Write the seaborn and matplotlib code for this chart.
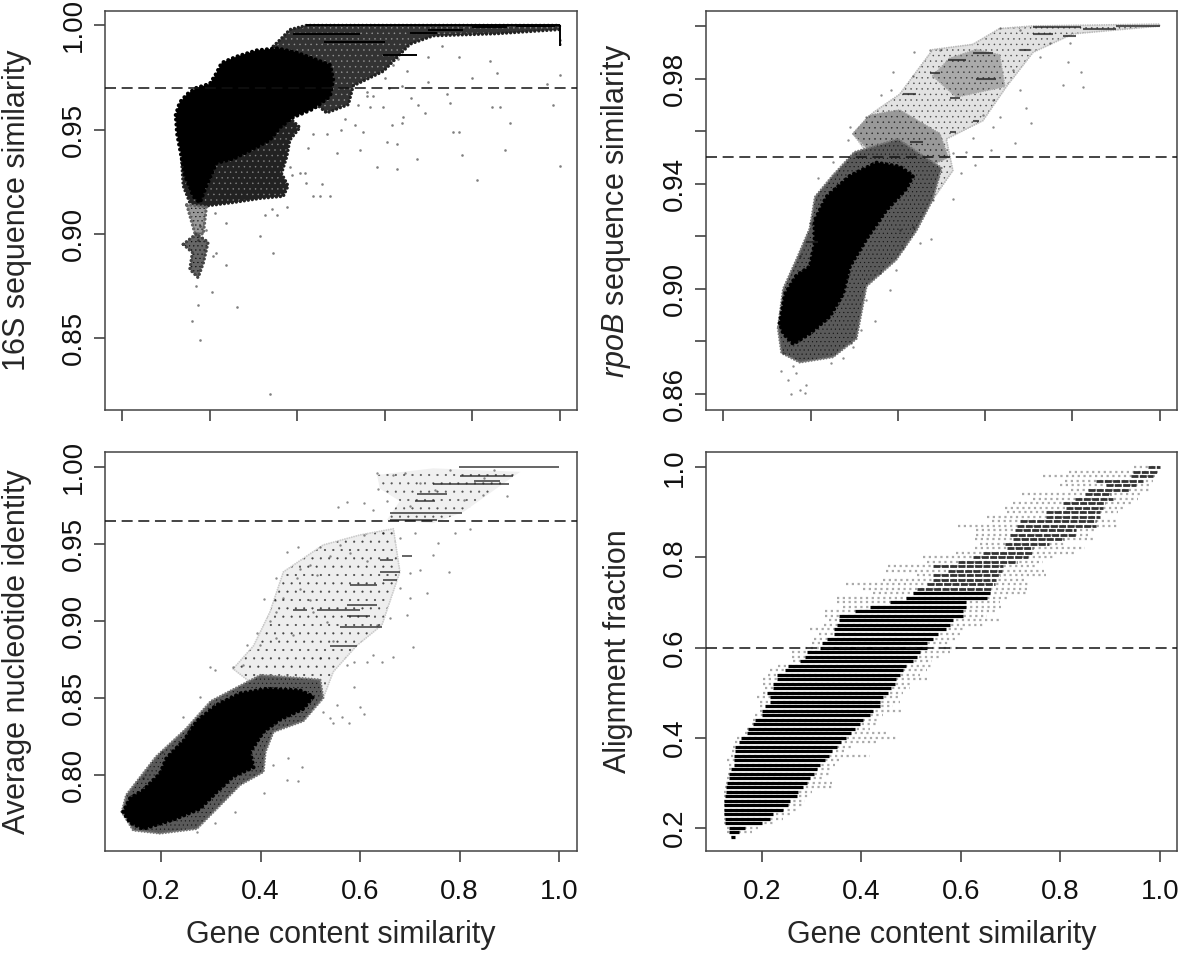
import matplotlib
matplotlib.use("Agg")
import matplotlib.pyplot as plt
import seaborn as sns

sns.set_theme(style="ticks")
plt.rcParams["font.family"] = ["Liberation Sans", "DejaVu Sans"]
plt.rcParams["mathtext.fontset"] = "custom"
plt.rcParams["mathtext.it"] = "Liberation Sans:italic"
plt.rcParams["mathtext.rm"] = "Liberation Sans"
plt.rcParams["hatch.linewidth"] = 0.3

# ---- 16S panel (outlines of the saturated cloud, streaks, loose points)
s16_core_x = [.122, .131, .148, .169, .200, .215, .227, .261, .307, .353, .398, .437, .475, .482, .475, .437, .391, .360, .337, .292, .253, .215, .192, .177, .162, .143, .135, .125]
s16_core_y = [.957, .963, .967, .970, .972, .977, .982, .985, .988, .989, .987, .984, .981, .974, .966, .960, .956, .951, .945, .940, .936, .934, .923, .915, .918, .928, .937, .948]
s16_low_x = [.135, .139, .154, .177, .253, .315, .368, .379, .364, .376, .383, .406, .360, .200]
s16_low_y = [.936, .923, .915, .913, .915, .917, .918, .923, .929, .937, .945, .951, .960, .960]
s16_top_x = [.345, .360, .383, .421, .711, 1.0, 1.0, .856, .711, .658, .597, .528, .517, .467, .400]
s16_top_y = [.990, .993, .998, 1.0, 1.0, 1.0, .998, .996, .995, .991, .978, .971, .962, .958, .970]
s16_neck_x = [.147, .192, .185, .166]
s16_neck_y = [.914, .913, .900, .900]
s16_tail_x = [.139, .169, .196, .185, .173, .154, .160]
s16_tail_y = [.895, .900, .896, .886, .879, .883, .891]
s16_streak_lo = [.421, .39, .658, .597, .46, .70, .80, .90]
s16_streak_hi = [1.0, .543, .719, .673, .60, .78, .88, .99]
s16_streak_y = [1.0, .996, .9965, .9858, .992, .998, .999, .9995]
s16_px = [1.0, 1.0, .337, .177, .261, .158, .173, .169, .204, .238, .215, .208, .314, .345, .353, .326, .452, .456, .475, .418, .532, .616, .639, .643, .757, .769, .841, .856, .845, .864, .986, .971, .799, .70, .742, .692, .677, .627, .582, .673, .776, .811, .876, .887, .75, .559, .574, .566, .597, .551, .605, .627, .544, .49, .467, .437, .425, .406, .383, .387, .421, .437, .376, .341, .238, .211, .177, .192, .173, 1.0, 1.0, .62, .65, .60, .63, .56, .54, .51, .50, .70, .73, .77, .61, .64, .66]
s16_py = [.976, .9325, .823, .849, .865, .858, .866, .875, .872, .885, .891, .8895, .899, .891, .909, .909, .918, .924, .918, .929, .952, .952, .953, .956, .949, .949, .983, .977, .961, .961, .962, .972, .975, .973, .967, .958, .962, .931, .932, .936, .938, .926, .94, .953, .963, .966, .966, .961, .961, .949, .944, .943, .94, .939, .948, .948, .941, .929, .932, .928, .9245, .918, .913, .912, .905, .91, .904, .902, .897, .991, .993, .981, .978, .975, .984, .968, .962, .955, .95, .985, .99, .985, .97, .971, .965]
s16_ticks = [1.00, .95, .90, .85]
s16_labels = ["1.00", "0.95", "0.90", "0.85"]

# ---- rpoB panel
rpo_core_x = [.129, .141, .167, .198, .209, .209, .236, .290, .351, .404, .435, .419, .374, .328, .290, .274, .244, .198, .160, .137]
rpo_core_y = [.887, .898, .905, .9085, .917, .926, .935, .943, .948, .9465, .943, .938, .930, .919, .9085, .898, .8895, .883, .879, .883]
rpo_mid_x = [.125, .133, .175, .251, .305, .328, .396, .442, .48, .50, .40, .30, .25, .21, .198, .167, .137]
rpo_mid_y = [.885, .8756, .872, .874, .881, .901, .911, .922, .934, .946, .957, .952, .943, .935, .923, .911, .90]
rpo_up_x = [.297, .335, .404, .496, .515, .45, .35]
rpo_up_y = [.959, .966, .968, .959, .95, .945, .95]
rpo_clump_x = [.519, .58, .633, .645, .534, .48]
rpo_clump_y = [.9877, .991, .989, .977, .973, .981]
rpo_out_x = [.48, .526, .511, .595, .649, .71, .801, 1.0, 1.0, .71, .633, .572, .48, .404, .343, .297, .36]
rpo_out_y = [.934, .945, .957, .964, .977, .99, .997, 1.0, 1.0007, 1.0, .999, .993, .991, .974, .967, .959, .945]
rpo_streak_lo = [.9, .824, .71, .778, .572, .515, .58, .473, .519, .412, .427, .19, .519, .572, .679, .71]
rpo_streak_hi = [1.0, .9, .755, .809, .618, .557, .626, .496, .542, .442, .458, .217, .534, .587, .702, .82]
rpo_streak_y = [1.0, .999, .997, .996, .9896, .987, .98, .982, .9725, .974, .956, .918, .9595, .964, .991, .9995]
rpo_px = [.82, .778, .824, .79, .694, .706, .668, .614, .557, .576, .545, .526, .477, .45, .412, .396, .381, .347, .316, .297, .274, .247, .19, .186, .156, .175, .133, .148, .167, .137, .16, .438, .473, .496, .435, .389, .362, .385, .29, .286, .328, .251, .217, .198, .175, .679, .633, .794, .748, .725, .679, .664, .618, .595, .633, .618, .572, .526, .48, .435, .404, .358, .328, .293]
rpo_py = [.9826, .9776, .9767, .9864, .9687, .963, .9554, .9529, .9519, .9472, .944, .934, .919, .9174, .9155, .9073, .8997, .8876, .8845, .878, .8737, .8718, .8635, .8604, .8598, .8616, .8686, .8655, .868, .8756, .8705, .99, .991, .991, .981, .9826, .9738, .9757, .9617, .9567, .9655, .9484, .9421, .925, .9123, .9985, .9991, .9934, .9934, .9883, .9757, .9833, .9719, .9662, .9655, .9617, .9573, .9516, .9339, .9237, .9225, .906, .8959, .8794]
rpo_ticks = [1.00, .98, .96, .94, .92, .90, .88, .86]
rpo_labels = ["", "0.98", "", "0.94", "", "0.90", "", "0.86"]

# ---- ANI panel
ani_core_x = [.124, .138, .164, .198, .211, .245, .272, .312, .359, .412, .479, .506, .486, .439, .406, .379, .386, .345, .312, .278, .225, .164, .138]
ani_core_y = [.776, .785, .790, .801, .811, .822, .835, .8455, .853, .856, .855, .851, .843, .836, .828, .815, .805, .799, .789, .778, .771, .765, .769]
ani_mid_x = [.121, .144, .198, .272, .312, .359, .406, .41, .426, .486, .526, .52, .40, .30, .25, .19, .13]
ani_mid_y = [.776, .764, .762, .765, .778, .7935, .802, .815, .828, .835, .85, .862, .865, .848, .83, .812, .787]
ani_out_x = [.345, .386, .419, .446, .526, .60, .667, .68, .644, .593, .546, .526, .40]
ani_out_y = [.869, .884, .906, .932, .9495, .956, .960, .932, .8975, .884, .867, .85, .855]
ani_top_x = [.634, .747, .922, .895, .808, .747, .654, .68, .64]
ani_top_y = [.995, .9993, .997, .991, .971, .9636, .9658, .978, .986]
ani_streak_lo = [.798, .80, .747, .828, .714, .711, .66, .66, .64, .684, .64, .647, .58, .573, .513, .466, .573, .56, .54]
ani_streak_hi = [1.0, .908, .90, .882, .774, .751, .804, .754, .667, .704, .68, .674, .634, .634, .60, .493, .62, .644, .593]
ani_streak_y = [1.0, .994, .989, .991, .9825, .978, .970, .966, .94, .942, .932, .927, .9235, .9105, .907, .907, .903, .896, .884]
ani_px = [.453, .476, .406, .429, .432, .392, .372, .298, .309, .278, .245, .201, .164, .272, .309, .349, .406, .453, .483, .476, .426, .456, .546, .54, .577, .563, .607, .6, .587, .553, .526, .707, .667, .644, .613, .587, .627, .694, .7, .734, .778, .747, .72, .7, .68, .66, .556, .573, .607, .634, .667, .637, .654, .627, .821, .79, .757, .895, .848, .808, .607, .647, .68, .71, .52, .56, .54, .58, .613, .5, .479, .513, .473, .479, .446, .5, .432, .419, .466, .432, .399, .365, .345, .52, .573, .546, .533, .506, .634, .69, .72, .75, .78, .70, .85, .87]
ani_py = [.945, .9484, .9144, .9138, .928, .892, .8845, .8704, .868, .851, .838, .815, .798, .763, .769, .776, .788, .797, .805, .796, .8065, .811, .8336, .837, .8336, .838, .8394, .8444, .8574, .8455, .841, .883, .877, .8737, .8737, .8737, .878, .904, .915, .918, .932, .943, .933, .931, .9213, .902, .9744, .9777, .9766, .996, .995, .986, .978, .972, .96, .957, .9506, .981, .982, .979, .956, .957, .954, .957, .948, .9495, .942, .944, .939, .9365, .934, .93, .928, .921, .915, .914, .906, .9, .891, .889, .8845, .8715, .8704, .876, .8715, .887, .8997, .906, .8975, .996, .99, .985, .998, .975, .993, .998]
ani_ticks = [1.00, .95, .90, .85, .80]
ani_labels = ["1.00", "0.95", "0.90", "0.85", "0.80"]

# ---- alignment fraction panel: one row per 0.01 level
af_level = [1.0, .99, .98, .97, .96, .95, .94, .93, .92, .91, .90, .89, .88, .87, .86, .85, .84, .83, .82, .81, .80, .79, .78, .77, .76, .75, .74, .73, .72, .71, .70, .69, .68, .67, .66, .65, .64, .63, .62, .61, .60, .59, .58, .57, .56, .55, .54, .53, .52, .51, .50, .49, .48, .47, .46, .45, .44, .43, .42, .41, .40, .39, .38, .37, .36, .35, .34, .33, .32, .31, .30, .29, .28, .27, .26, .25, .24, .23, .22, .21, .20, .19, .18]
af_dense_lo = [.976, .946, .943, .872, .892, .856, .849, .829, .805, .812, .772, .772, .719, .712, .708, .698, .705, .688, .692, .645, .625, .595, .544, .575, .544, .544, .531, .511, .504, .49, .457, .417, .387, .354, .354, .35, .344, .344, .33, .32, .317, .29, .287, .277, .253, .247, .23, .23, .223, .223, .21, .217, .217, .207, .2, .2, .187, .183, .173, .17, .157, .153, .146, .146, .143, .143, .143, .137, .133, .133, .13, .128, .128, .126, .124, .124, .123, .124, .126, .126, .133, .133, .137]
af_dense_hi = [1.0, .996, .986, .966, .952, .939, .902, .906, .889, .885, .879, .879, .872, .872, .832, .832, .808, .778, .745, .745, .735, .712, .685, .682, .678, .671, .668, .661, .658, .652, .611, .611, .604, .604, .585, .578, .571, .554, .544, .531, .531, .517, .511, .504, .49, .484, .477, .47, .467, .46, .454, .444, .437, .437, .424, .417, .404, .397, .387, .38, .37, .36, .35, .34, .334, .327, .317, .31, .304, .297, .29, .283, .273, .27, .257, .253, .243, .223, .217, .2, .166, .153, .146]
af_faint_lo = [.949, .818, .765, .809, .799, .822, .722, .745, .705, .688, .692, .652, .662, .595, .631, .631, .628, .638, .628, .591, .524, .531, .454, .45, .511, .444, .37, .404, .424, .35, .35, .364, .327, .327, .334, .324, .297, .314, .304, .3, .287, .26, .26, .263, .233, .217, .213, .203, .203, .207, .203, .19, .197, .197, .197, .187, .183, .18, .17, .167, .15, .146, .142, .14, .137, .13, .133, .133, .131, .13, .128, .126, .124, .124, .123, .123, .123, .123, .124, .124, .13, .13, .137]
af_faint_hi = [1.0, .998, .99, .986, .979, .979, .966, .956, .946, .929, .916, .882, .916, .916, .872, .856, .872, .812, .849, .829, .789, .765, .752, .768, .772, .728, .735, .735, .735, .698, .678, .681, .668, .652, .681, .648, .611, .604, .588, .575, .601, .578, .558, .541, .541, .531, .517, .537, .497, .497, .484, .474, .477, .464, .481, .444, .437, .43, .417, .454, .474, .434, .384, .367, .417, .354, .347, .337, .337, .327, .34, .34, .3, .297, .287, .28, .27, .257, .243, .226, .193, .18, .146]
af_ticks = [1.0, .8, .6, .4, .2]
af_labels = ["1.0", "0.8", "0.6", "0.4", "0.2"]

x_ticks_top = [0, .2, .4, .6, .8, 1.0]
x_ticks_bottom = [.2, .4, .6, .8, 1.0]
x_tick_labels = ["0.2", "0.4", "0.6", "0.8", "1.0"]
x_title = "Gene content similarity"

W, H = 1181, 956
fig = plt.figure(figsize=(W / 100, H / 100), dpi=100)


def make_axes(x0, x1, y0, y1):
    return fig.add_axes([x0 / W, 1 - y1 / H, (x1 - x0) / W, (y1 - y0) / H])


def style(ax, xlim, ylim, xticks, yticks, ylabels, thresh, ylab, xlabels=None):
    ax.set_xlim(*xlim)
    ax.set_ylim(*ylim)
    ax.set_xticks(xticks)
    ax.set_yticks(yticks)
    ax.set_yticklabels(ylabels, rotation=90, va="center", fontsize=20)
    if xlabels:
        ax.set_xticklabels(xlabels, fontsize=20)
        ax.set_xlabel(x_title, fontsize=22)
        ax.xaxis.set_label_coords(0.5, -0.172)
        ax.tick_params(axis="x", pad=12)
    else:
        ax.set_xticklabels([])
        ax.set_xlabel("")
    ax.set_ylabel(ylab, fontsize=22)
    ax.yaxis.set_label_coords(-0.155, 0.5)
    ax.tick_params(length=8, width=1.1, color="#333333", labelcolor="#111111")
    ax.tick_params(axis="y", pad=5)
    for sp in ax.spines.values():
        sp.set_color("#444444")
        sp.set_linewidth(1.1)
    ax.axhline(thresh, color="#111111", lw=1.1, linestyle=(0, (7.2, 3.7)), zorder=6)


def cloud(ax, xs, ys, layer, face, dots=None, dot_col="black", edge=None, edge_lw=2.4):
    # dense part of a cloud: speckled fill plus a bumpy dotted rim
    ax.fill(xs, ys, facecolor=face, edgecolor=dot_col, hatch=dots, lw=0, zorder=layer)
    if edge:
        ax.plot(xs + xs[:1], ys + ys[:1], color=edge, lw=edge_lw, linestyle=(0, (0.01, 1.2)),
                dash_capstyle="round", zorder=layer)


def points(ax, px, py, size=3, alpha=0.45):
    sns.scatterplot(x=px, y=py, ax=ax, color="black", s=size, alpha=alpha, linewidth=0, zorder=4, legend=False)


# 16S
ax1 = make_axes(105, 577, 11, 410)
cloud(ax1, s16_top_x, s16_top_y, 1.0, "#333333", "...", "#999999", "#222222")
cloud(ax1, s16_low_x, s16_low_y, 1.1, "#222222", "...", "#888888", "#222222")
cloud(ax1, s16_neck_x, s16_neck_y, 1.2, "#999999", "....", "black", "#666666")
cloud(ax1, s16_tail_x, s16_tail_y, 1.3, "#666666", "....", "black", "#444444")
cloud(ax1, s16_core_x, s16_core_y, 1.4, "black", None, "black", "black", 3.0)
ax1.hlines(s16_streak_y, s16_streak_lo, s16_streak_hi, color="black", lw=1.4, zorder=3)
ax1.vlines([1.0], [.99], [1.0], color="black", lw=1.4, zorder=3)
points(ax1, s16_px, s16_py, size=3.5, alpha=0.5)
style(ax1, (-.04, 1.04), (.8155, 1.0069), x_ticks_top, s16_ticks, s16_labels, .97, "16S sequence similarity")

# rpoB
ax2 = make_axes(706, 1177, 11, 410)
cloud(ax2, rpo_out_x, rpo_out_y, 1.0, "#e2e2e2", "...", "#444444", "#bbbbbb", 1.4)
cloud(ax2, rpo_clump_x, rpo_clump_y, 1.1, "#aaaaaa", "...", "#333333", "#aaaaaa", 1.4)
cloud(ax2, rpo_up_x, rpo_up_y, 1.2, "#999999", "...", "#222222", "#999999", 1.4)
cloud(ax2, rpo_mid_x, rpo_mid_y, 1.3, "#5a5a5a", "....", "#111111", "#777777", 1.8)
cloud(ax2, rpo_core_x, rpo_core_y, 1.4, "black", None, "black", "black", 3.0)
ax2.hlines(rpo_streak_y, rpo_streak_lo, rpo_streak_hi, color="#222222", alpha=0.75, lw=1.5, zorder=3)
points(ax2, rpo_px, rpo_py)
style(ax2, (-.04, 1.04), (.8539, 1.0057), x_ticks_top, rpo_ticks, rpo_labels, .95, r"$\mathit{rpoB}$ sequence similarity")

# ANI
ax3 = make_axes(105, 577, 452, 851)
cloud(ax3, ani_top_x, ani_top_y, 1.0, "#f0f0f0", "..", "#555555", None)
cloud(ax3, ani_out_x, ani_out_y, 1.1, "#eeeeee", "..", "#444444", "#cccccc", 1.4)
cloud(ax3, ani_mid_x, ani_mid_y, 1.2, "#5a5a5a", "....", "#111111", "#777777", 1.8)
cloud(ax3, ani_core_x, ani_core_y, 1.3, "black", None, "black", "black", 3.0)
ax3.hlines(ani_streak_y, ani_streak_lo, ani_streak_hi, color="#222222", alpha=0.75, lw=1.3, zorder=3)
points(ax3, ani_px, ani_py)
style(ax3, (.0874, 1.036), (.7506, 1.0099), x_ticks_bottom, ani_ticks, ani_labels, .965, "Average nucleotide identity", x_tick_labels)

# Alignment fraction
ax4 = make_axes(706, 1177, 452, 851)
ax4.hlines(af_level, af_faint_lo, af_faint_hi, color="#aaaaaa", lw=1.6, linestyle=(0, (1, 1.6)), zorder=2)
upper = [i for i, v in enumerate(af_level) if v > .72]
lower = [i for i, v in enumerate(af_level) if v <= .72]
ax4.hlines([af_level[i] for i in lower], [af_dense_lo[i] for i in lower], [af_dense_hi[i] for i in lower],
           color="black", lw=2.3, zorder=3)
ax4.hlines([af_level[i] for i in upper], [af_dense_lo[i] for i in upper], [af_dense_hi[i] for i in upper],
           color="#333333", lw=2.0, linestyle=(0, (2.5, 0.5)), zorder=3)
style(ax4, (.0876, 1.0345), (.1483, 1.034), x_ticks_bottom, af_ticks, af_labels, .6, "Alignment fraction", x_tick_labels)

fig.savefig("out.png", dpi=100)
